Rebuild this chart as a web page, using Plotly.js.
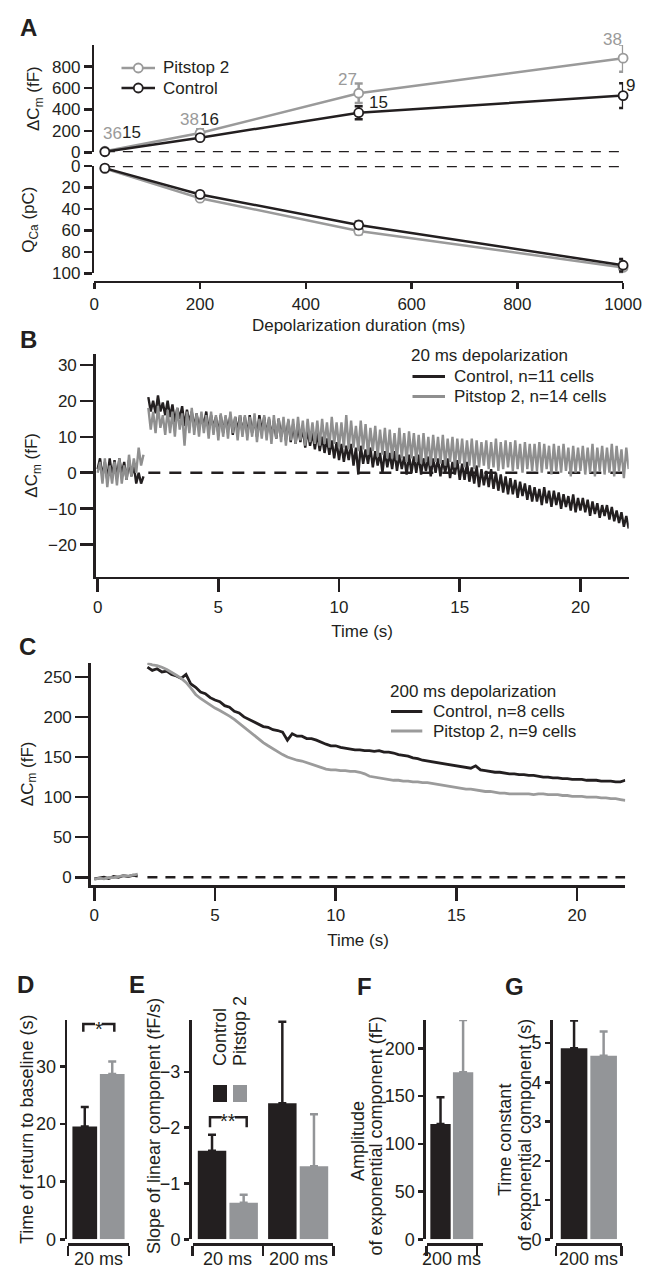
<!DOCTYPE html>
<html>
<head>
<meta charset="utf-8">
<script src="https://cdn.plot.ly/plotly-3.0.1.min.js"></script>
<style>html,body{margin:0;padding:0;background:#fff;}#chart{width:657px;height:1270px;}</style>
</head>
<body>
<div id="chart"></div>
<script>
// ---------------- DATA ----------------
// Panel A
const durations = [20, 200, 500, 1000];
const dCmPitstop = [10, 180, 552, 880];
const dCmPitstopErr = [6, 35, 92, 128];
const dCmControl = [5, 137, 370, 530];
const dCmControlErr = [4, 15, 60, 115];
const qCaPitstop = [2.5, 30, 60.5, 94.5];
const qCaPitstopErr = [1, 1.5, 3, 6];
const qCaControl = [2, 26.5, 55, 92.5];
const qCaControlErr = [1, 1.5, 3, 5.8];
const nPitstop = ['36', '38', '27', '38'];
const nControl = ['15', '16', '15', '9'];
const seriesNames = ['Pitstop 2', 'Control'];

// Panel B: 20 ms depolarization, sampled every 0.1 s from t = 0 (null = gap at stimulus)
const b20Step = 0.1;
const b20Names = ['Control, n=11 cells', 'Pitstop 2, n=14 cells'];
const b20Control = [
1, 4, -1, 3, -2, 4, -1, 3.5, -1.5, 4, -0.5, 3, -2, 3.5, -1, 2, -3, 0, -3, -1,
null,
21, 17, 20, 16.5, 21.5, 17, 19.5, 16, 20, 15.5,
19, 14, 18, 15, 18.5, 13, 17.5, 14, 17, 12.5,
16.5, 12, 16, 13, 17, 11.5, 16, 12.5, 15.5, 11,
16, 11, 15.5, 12, 16, 10.5, 15.5, 11.5, 16, 11,
15.5, 10.5, 16, 11, 15, 10, 16, 11.5, 15.5, 10.5,
15, 10, 14.5, 9.5, 15, 10, 14, 9, 14.5, 8.5,
13.5, 8, 13, 8.5, 12.5, 7, 12, 7.5, 11, 6.5,
11, 6, 10, 5.5, 9.5, 5, 9, 4, 8.5, 3.5,
8, 3, 7.5, 3.5, 8, 2, 7, -0.5, 7.5, 2.5,
6.5, 2.5, 7, 1.5, 6, 2, 5.5, 0, 6, 1.5,
5.5, 1, 6, 0.5, 5, 1, 4.5, -0.5, 5, 0,
4.5, 0, 5, -0.5, 4, 0.5, 4.5, -1, 4, 0,
4, -1, 3.5, 0, 4, -1.5, 3, -0.5, 3.5, -2,
2.5, -2, 3, -2.5, 1.5, -3, 2, -4, 1, -3.5,
0.5, -4, 1, -4.5, 0, -5, -0.5, -5.5, -1, -6,
-1.5, -6, -2, -7, -2.5, -6.5, -3, -7.5, -3.5, -8,
-4, -8, -4.5, -9, -4, -8.5, -5, -9.5, -5, -9,
-5.5, -10, -6, -9.5, -6.5, -10.5, -6, -11, -7, -10.5,
-7, -11, -7.5, -12, -8, -11.5, -8.5, -12.5, -9, -12,
-9, -13, -9.5, -13.5, -10.5, -14, -11, -15, -12, -15.5
];
const b20Pitstop = [
0, 3, -3, 4, -4, 2, -3, 3, -3.5, 4, -3, 2, -2, 5, -1, 4, 0, 7, 2, 5,
null,
18, 12, 17, 11, 18.5, 12.5, 16, 10.5, 17.5, 11,
17, 10, 18, 12, 16.5, 7.5, 17, 11, 18, 10.5,
16.5, 10, 17, 11, 16, 9.5, 17, 10.5, 16, 9,
16.5, 10, 16, 9.5, 17, 11, 15.5, 9, 16, 10,
16, 9, 15.5, 10, 16.5, 8.5, 15, 9.5, 16, 9,
15.5, 8, 16, 9.5, 15, 8.5, 15.5, 7.5, 15, 9,
15, 8, 15.5, 9, 14.5, 7.5, 15, 8.5, 14, 8,
14.5, 7.5, 15, 8, 14, 7, 15.5, 8, 14, 7,
14, 7, 16, 6.5, 14.5, 7, 13, 6, 14.5, 6.5,
13.5, 5, 12.5, 6, 13, 4.5, 12, 5, 12.5, 4,
12, 4, 11, 3.5, 12.5, 4, 11, 3, 11.5, 4,
11, 3, 10.5, 2.5, 11, 3, 10, 2, 10.5, 3,
10, 2.5, 10.5, 2, 9.5, 3, 10, 1.5, 9.5, 2.5,
9.5, 1.5, 9, 2, 9.5, 1, 9, 1.5, 8.5, 2,
9, 1, 8.5, 1.5, 9.5, 0.5, 8.5, 1, 9, 1.5,
8.5, 0.5, 9, 1, 8, 0, 8.5, 1, 8, 0.5,
8, 0.5, 8.5, 0, 8, 1, 7.5, -0.5, 8, 0.5,
7.5, 0, 8, 0.5, 7, -1, 7.5, 0, 7, 0.5,
7.5, -0.5, 7, 0, 8, -1, 7, 0.5, 7.5, -0.5,
7, 0, 8, -1, 7.5, 0.5, 6.5, -1.5, 7, 1
];

// Panel C: 200 ms depolarization, sampled every 0.2 s from t = 0 (null = gap at stimulus)
const c200Step = 0.2;
const c200Names = ['Control, n=8 cells', 'Pitstop 2, n=9 cells'];
const c200Control = [
-2, -1, 0, -1.5, 1, 0, 2, 1, 2.5, 1.5,
null,
262, 258, 260, 256, 257, 253, 251, 248, 253, 241,
237, 231, 229, 224, 221, 219, 214, 212, 207, 205,
200, 197, 193, 191, 188, 187, 184, 183, 181, 171,
179, 176, 176, 173, 173, 171, 168, 166, 164, 164,
162, 161, 160, 159, 159, 158, 158, 157, 158, 156,
156, 155, 153, 152, 151, 149, 148, 146, 145, 144,
143, 142, 141, 140, 139, 138, 137, 136, 139, 134,
133, 132, 131, 131, 130, 129, 129, 128, 128, 127,
127, 126, 125, 125, 124, 124, 123, 123, 122, 122,
122, 121, 121, 121, 120, 120, 120, 119, 119, 121
];
const c200Pitstop = [
-2.5, -1, -2, 0, -0.5, 1, 2, 1.5, 3, 4,
null,
267, 265, 264, 262, 259, 256, 252, 248, 243, 236,
228, 223, 219, 214, 211, 208, 205, 201, 197, 192,
187, 183, 178, 173, 168, 164, 160, 157, 153, 150,
148, 146, 145, 143, 141, 139, 137, 135, 134, 134,
133, 133, 132, 132, 131, 129, 126, 125, 124, 123,
122, 121, 121, 120, 120, 119, 119, 118, 118, 117,
116, 115, 114, 113, 112, 111, 110, 110, 109, 108,
107, 107, 106, 105, 105, 104, 104, 104, 104, 104,
103, 104, 104, 103, 103, 103, 102, 102, 101, 101,
101, 100, 100, 100, 99, 99, 98, 98, 97, 96
];

// Panels D-G
const cat20 = ['20 ms'];
const cat200 = ['200 ms'];
const catE = ['20 ms', '200 ms'];
const legendE = ['Control', 'Pitstop 2'];
const dControl = [19.6], dControlErr = [3.4];
const dPitstop = [28.7], dPitstopErr = [2.2];
const eControl = [-1.585, -2.44], eControlErr = [0.29, 1.46];
const ePitstop = [-0.655, -1.31], ePitstopErr = [0.145, 0.93];
const fControl = [120.7], fControlErr = [28];
const fPitstop = [174.9], fPitstopErr = [54.7];
const gControl = [4.87], gControlErr = [0.71];
const gPitstop = [4.68], gPitstopErr = [0.62];

// ---------------- STYLE ----------------
const W = 657, H = 1270;
const px = v => v / W;
const py = v => 1 - v / H;
const INK = '#231f20';
const GRAYL = '#9a9a9a';
const GRAYT = '#8f8f8f';
const GRAYC = '#9b9b9b';
const GRAYB = '#939598';
const FONT = 'Liberation Sans, Arial, Helvetica, sans-serif';

function ax(extra) {
  return Object.assign({
    showline: true, linecolor: INK, linewidth: 2.5,
    ticks: 'outside', tickcolor: INK, tickwidth: 2.5, ticklen: 6,
    showgrid: false, zeroline: false, fixedrange: true,
    tickfont: {size: 17, color: INK, family: FONT}
  }, extra);
}

const traces = [];
// A top (Control drawn on top)
traces.push({x: durations, y: dCmPitstop, xaxis: 'x', yaxis: 'y', mode: 'lines+markers',
  name: seriesNames[0], showlegend: false,
  line: {color: GRAYL, width: 2.5},
  marker: {symbol: 'circle', size: 9, color: '#fff', line: {color: GRAYL, width: 1.8}},
  error_y: {type: 'data', array: dCmPitstopErr, color: GRAYL, thickness: 2.5, width: 4},
  cliponaxis: false});
traces.push({x: durations, y: dCmControl, xaxis: 'x', yaxis: 'y', mode: 'lines+markers',
  name: seriesNames[1], showlegend: false,
  line: {color: INK, width: 2.5},
  marker: {symbol: 'circle', size: 9, color: '#fff', line: {color: INK, width: 1.8}},
  error_y: {type: 'data', array: dCmControlErr, color: INK, thickness: 2.5, width: 4},
  cliponaxis: false});
// A bottom
traces.push({x: durations, y: qCaPitstop, xaxis: 'x2', yaxis: 'y2', mode: 'lines+markers',
  name: seriesNames[0], showlegend: false, line: {color: GRAYL, width: 2.5},
  marker: {symbol: 'circle', size: 9, color: '#fff', line: {color: GRAYL, width: 1.8}},
  error_y: {type: 'data', array: qCaPitstopErr, color: GRAYL, thickness: 2.5, width: 4},
  cliponaxis: false});
traces.push({x: durations, y: qCaControl, xaxis: 'x2', yaxis: 'y2', mode: 'lines+markers',
  name: seriesNames[1], showlegend: false, line: {color: INK, width: 2.5},
  marker: {symbol: 'circle', size: 9, color: '#fff', line: {color: INK, width: 1.8}},
  error_y: {type: 'data', array: qCaControlErr, color: INK, thickness: 2.5, width: 4},
  cliponaxis: false});
// B
traces.push({y: b20Control, x0: 0, dx: b20Step, xaxis: 'x3', yaxis: 'y3', mode: 'lines',
  name: b20Names[0], showlegend: false, connectgaps: false, line: {color: INK, width: 2.4}});
traces.push({y: b20Pitstop, x0: 0, dx: b20Step, xaxis: 'x3', yaxis: 'y3', mode: 'lines',
  name: b20Names[1], showlegend: false, connectgaps: false, line: {color: GRAYT, width: 2.4}});
// C
traces.push({y: c200Control, x0: 0, dx: c200Step, xaxis: 'x4', yaxis: 'y4', mode: 'lines',
  name: c200Names[0], showlegend: false, connectgaps: false, line: {color: INK, width: 2.8}});
traces.push({y: c200Pitstop, x0: 0, dx: c200Step, xaxis: 'x4', yaxis: 'y4', mode: 'lines',
  name: c200Names[1], showlegend: false, connectgaps: false, line: {color: GRAYC, width: 2.8}});

function barPair(xa, ya, cats, vC, eC, vP, eP, negative) {
  const zeros = cats.map(() => 0);
  const mk = (e, col) => Object.assign(negative
      ? {type: 'data', symmetric: false, array: zeros, arrayminus: e}
      : {type: 'data', symmetric: false, array: e, arrayminus: zeros},
    {color: col, thickness: 2.5, width: 4});
  traces.push({type: 'bar', x: cats, y: vC, xaxis: xa, yaxis: ya, name: 'Control', showlegend: false,
    marker: {color: INK, line: {width: 0}}, error_y: mk(eC, INK)});
  traces.push({type: 'bar', x: cats, y: vP, xaxis: xa, yaxis: ya, name: 'Pitstop 2', showlegend: false,
    marker: {color: GRAYB, line: {width: 0}}, error_y: mk(eP, GRAYB)});
}
barPair('x5', 'y5', cat20, dControl, dControlErr, dPitstop, dPitstopErr, false);
barPair('x6', 'y6', catE, eControl, eControlErr, ePitstop, ePitstopErr, true);
barPair('x7', 'y7', cat200, fControl, fControlErr, fPitstop, fPitstopErr, false);
barPair('x8', 'y8', cat200, gControl, gControlErr, gPitstop, gPitstopErr, false);

const tfont = (s, c) => ({size: s || 17, color: c || INK, family: FONT});
const yTitle = (t, so) => ({text: t, font: tfont(17), standoff: so});
const botTop = 1020, botBase = 1239.3, botAxis = 1244.3;
const catAx = (d0, d1) => ax({domain: [px(d0), px(d1)], type: 'category', anchor: 'free', position: py(botAxis),
  tickson: 'boundaries', ticklen: 10, showticklabels: false});
const barY = (pos, range, tickvals) => ax({domain: [py(botBase), py(botTop)], range: range,
  anchor: 'free', position: px(pos), tickvals: tickvals, ticklen: 5, tickfont: tfont(18)});

const dash = (xr, yr, x0, x1, d) => ({type: 'line', xref: xr, yref: yr, x0: x0, x1: x1, y0: 0, y1: 0,
  layer: 'below', line: {color: INK, width: 2.5, dash: d}});
const P = (x, y) => px(x) + ',' + py(y);
const hline = (x0, x1, y, col, w) => ({type: 'line', xref: 'paper', yref: 'paper',
  x0: px(x0), x1: px(x1), y0: py(y), y1: py(y), line: {color: col, width: w || 3}});

const shapes = [
  dash('x', 'y', 20, 1000, '10px,8px'),
  dash('x2', 'y2', 20, 1000, '10px,8px'),
  dash('x3', 'y3', 2.1, 22, '12px,9px'),
  dash('x4', 'y4', 2.2, 22, '10px,8px'),
  {type: 'path', xref: 'paper', yref: 'paper', line: {color: INK, width: 2.5},
   path: 'M' + P(83.3, 1031.7) + 'L' + P(83.3, 1024) + 'L' + P(95, 1024) +
         'M' + P(101.7, 1024) + 'L' + P(114.3, 1024) + 'L' + P(114.3, 1031.7)},
  {type: 'path', xref: 'paper', yref: 'paper', line: {color: INK, width: 2.5},
   path: 'M' + P(210, 1127.3) + 'L' + P(210, 1117.3) + 'L' + P(221.5, 1117.3) +
         'M' + P(235, 1117.3) + 'L' + P(246.7, 1117.3) + 'L' + P(246.7, 1127.3)},
  {type: 'rect', xref: 'paper', yref: 'paper', x0: px(213), x1: px(227), y0: py(1102), y1: py(1085),
   fillcolor: INK, line: {width: 0}},
  {type: 'rect', xref: 'paper', yref: 'paper', x0: px(233), x1: px(247), y0: py(1102), y1: py(1085),
   fillcolor: GRAYB, line: {width: 0}},
  // legend keys A
  hline(121.5, 155, 68, GRAYL, 2.5),
  hline(121.5, 155, 88, INK, 2.5),
  {type: 'circle', xref: 'paper', yref: 'paper', x0: px(133.8), x1: px(142.8), y0: py(72.5), y1: py(63.5),
   fillcolor: '#fff', line: {color: GRAYL, width: 1.8}},
  {type: 'circle', xref: 'paper', yref: 'paper', x0: px(133.8), x1: px(142.8), y0: py(92.5), y1: py(83.5),
   fillcolor: '#fff', line: {color: INK, width: 1.8}},
  // legend keys B
  hline(412.5, 445, 376.5, INK), hline(412.5, 445, 396.5, GRAYT),
  // legend keys C
  hline(391, 422.3, 711.5, INK), hline(391, 422.3, 731, GRAYC)
];

const annotations = [];
const note = (t, x, y, o) => annotations.push(Object.assign({text: t, xref: 'paper', yref: 'paper',
  x: px(x), y: py(y), xanchor: 'center', yanchor: 'middle', showarrow: false, font: tfont(17)}, o || {}));
const letter = (t, x, y) => note(t, x, y, {font: {size: 24, weight: 'bold', color: INK, family: FONT}});
letter('A', 28, 27); letter('B', 28, 340); letter('C', 27, 646);
letter('D', 25, 985); letter('E', 137, 985); letter('F', 364, 986); letter('G', 514, 986);

const pitShift = [[7.4, 18], [-10.6, 14], [-11, 14], [-10.6, 19]];
const ctlShift = [[27, 19], [9.4, 18.6], [20, 10], [7, 10.6]];
durations.forEach((d, i) => {
  annotations.push({text: nPitstop[i], x: d, y: dCmPitstop[i], xref: 'x', yref: 'y', showarrow: false,
    xshift: pitShift[i][0], yshift: pitShift[i][1], font: tfont(17, GRAYL)});
  annotations.push({text: nControl[i], x: d, y: dCmControl[i], xref: 'x', yref: 'y', showarrow: false,
    xshift: ctlShift[i][0], yshift: ctlShift[i][1], font: tfont(17, INK)});
});
// legend texts
note(seriesNames[0], 160.5, 68, {xanchor: 'left'});
note(seriesNames[1], 160.5, 88, {xanchor: 'left'});
note('20 ms depolarization', 408.5, 355.5, {xanchor: 'left'});
note(b20Names[0], 451.5, 376, {xanchor: 'left'});
note(b20Names[1], 451.5, 396, {xanchor: 'left'});
note('200 ms depolarization', 387.5, 691.5, {xanchor: 'left'});
note(c200Names[0], 430.5, 711.5, {xanchor: 'left'});
note(c200Names[1], 430.5, 731, {xanchor: 'left'});
// significance
note('*', 98.5, 1029, {font: tfont(20)});
note('**', 228, 1121, {font: tfont(20)});
// E key
note(legendE[0], 220, 1068, {textangle: -90, yanchor: 'bottom', font: tfont(18)});
note(legendE[1], 240, 1068, {textangle: -90, yanchor: 'bottom', font: tfont(18)});
// bar y titles
note('Time of return to baseline (s)', 27, 1130, {textangle: -90, font: tfont(18)});
note('Slope of linear component (fF/s)', 153.5, 1126.5, {textangle: -90, font: tfont(18)});
note('Amplitude', 358, 1141, {textangle: -90, font: tfont(18)});
note('of exponential component (fF)', 375.5, 1136, {textangle: -90, font: tfont(18)});
note('Time constant', 505, 1140, {textangle: -90, font: tfont(18)});
note('of exponential component (s)', 525, 1135, {textangle: -90, font: tfont(18)});
// bar category labels
const catLabel = (xa, c) => annotations.push({text: c, xref: xa, yref: 'paper', x: c, y: py(1259),
  xanchor: 'center', yanchor: 'middle', showarrow: false, font: tfont(18)});
catLabel('x5', cat20[0]); catLabel('x6', catE[0]); catLabel('x6', catE[1]);
catLabel('x7', cat200[0]); catLabel('x8', cat200[0]);

const layout = {
  width: W, height: H, margin: {l: 0, r: 0, t: 0, b: 0},
  paper_bgcolor: '#fff', plot_bgcolor: 'rgba(0,0,0,0)',
  font: {family: FONT, size: 17, color: INK},
  showlegend: false, barmode: 'group', bargap: 0.1, bargroupgap: 0.1,
  xaxis: ax({domain: [px(94.3), px(623.1)], range: [0, 1000], visible: false, anchor: 'y'}),
  yaxis: ax({domain: [py(152.3), py(45)], range: [0, 1003], anchor: 'x', ticklen: 8,
    tickvals: [0, 200, 400, 600, 800], title: yTitle('ΔC<sub>m</sub> (fF)', 8)}),
  xaxis2: ax({domain: [px(94.3), px(623.1)], range: [0, 1000], anchor: 'free', position: py(281.7),
    tickvals: [0, 200, 400, 600, 800, 1000], ticklen: 6,
    title: {text: 'Depolarization duration (ms)', font: tfont(17), standoff: 6}}),
  yaxis2: ax({domain: [py(273.3), py(166)], range: [100, 0], anchor: 'x2', ticklen: 8,
    tickvals: [0, 20, 40, 60, 80, 100], title: yTitle('Q<sub>Ca</sub> (pC)', 13)}),
  xaxis3: ax({domain: [px(95.7), px(628.7)], range: [-0.08, 22.0], anchor: 'y3', ticklen: 13,
    tickvals: [0, 5, 10, 15, 20], title: {text: 'Time (s)', font: tfont(17), standoff: 10}}),
  yaxis3: ax({domain: [py(576.7), py(354)], range: [-28.9, 33.0], anchor: 'x3', ticklen: 13,
    tickvals: [-20, -10, 0, 10, 20, 30], title: yTitle('ΔC<sub>m</sub> (fF)', 6)}),
  xaxis4: ax({domain: [px(90.7), px(625.3)], range: [-0.15, 22.0], anchor: 'y4', ticklen: 13,
    tickvals: [0, 5, 10, 15, 20], title: {text: 'Time (s)', font: tfont(17), standoff: 10}}),
  yaxis4: ax({domain: [py(885), py(662.7)], range: [-9.6, 267.6], anchor: 'x4', ticklen: 13,
    tickvals: [0, 50, 100, 150, 200, 250], title: yTitle('ΔC<sub>m</sub> (fF)', 6)}),
  xaxis5: catAx(68, 129),
  yaxis5: barY(65.7, [0, 38.1], [0, 10, 20, 30]),
  xaxis6: catAx(192.7, 333.3),
  yaxis6: barY(190, [0, -3.93], [0, -1, -2, -3]),
  xaxis7: catAx(426.7, 483.3),
  yaxis7: barY(424.3, [0, 229.6], [0, 50, 100, 150, 200]),
  xaxis8: catAx(556, 621.7),
  yaxis8: barY(551, [0, 5.59], [0, 1, 2, 3, 4, 5]),
  shapes: shapes,
  annotations: annotations
};

Plotly.newPlot('chart', traces, layout, {staticPlot: true, displayModeBar: false});
</script>
</body>
</html>
